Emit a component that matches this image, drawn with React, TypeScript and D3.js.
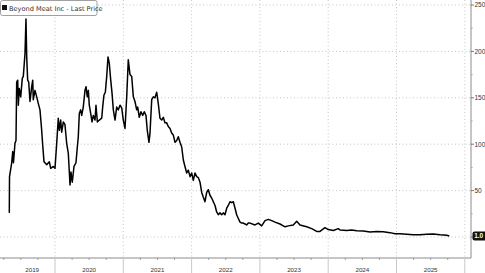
import React from "react";
import * as d3 from "d3";

// decimal-year time stamps
const times = [
  2019.331, 2019.334, 2019.366, 2019.381, 2019.392, 2019.414, 2019.429, 2019.439, 2019.454, 2019.463,
  2019.477, 2019.498, 2019.521, 2019.536, 2019.561, 2019.575, 2019.586, 2019.6, 2019.615, 2019.634,
  2019.659, 2019.674, 2019.682, 2019.707, 2019.732, 2019.755, 2019.78, 2019.805, 2019.82, 2019.839,
  2019.879, 2019.917, 2019.937, 2019.975, 2020.0, 2020.025, 2020.048, 2020.063, 2020.083, 2020.098,
  2020.122, 2020.146, 2020.171, 2020.195, 2020.22, 2020.234, 2020.253, 2020.278, 2020.307, 2020.327,
  2020.341, 2020.356, 2020.376, 2020.391, 2020.414, 2020.439, 2020.454, 2020.473, 2020.488, 2020.502,
  2020.523, 2020.542, 2020.561, 2020.586, 2020.6, 2020.62, 2020.649, 2020.684, 2020.698, 2020.717,
  2020.737, 2020.757, 2020.776, 2020.795, 2020.816, 2020.835, 2020.854, 2020.879, 2020.903, 2020.927,
  2020.952, 2020.977, 2021.0, 2021.025, 2021.05, 2021.073, 2021.098, 2021.123, 2021.147, 2021.171,
  2021.196, 2021.211, 2021.234, 2021.259, 2021.284, 2021.307, 2021.332, 2021.351, 2021.376, 2021.391,
  2021.416, 2021.439, 2021.464, 2021.489, 2021.512, 2021.537, 2021.562, 2021.586, 2021.61, 2021.635,
  2021.659, 2021.684, 2021.708, 2021.732, 2021.757, 2021.782, 2021.805, 2021.83, 2021.855, 2021.879,
  2021.903, 2021.928, 2021.952, 2021.977, 2022.001, 2022.025, 2022.05, 2022.075, 2022.098, 2022.123,
  2022.148, 2022.171, 2022.196, 2022.221, 2022.245, 2022.269, 2022.294, 2022.318, 2022.343, 2022.367,
  2022.391, 2022.416, 2022.441, 2022.464, 2022.489, 2022.514, 2022.537, 2022.562, 2022.587, 2022.611,
  2022.636, 2022.66, 2022.684, 2022.709, 2022.734, 2022.757, 2022.782, 2022.806, 2022.83, 2022.855,
  2022.928, 2022.977, 2023.026, 2023.075, 2023.123, 2023.173, 2023.221, 2023.294, 2023.368, 2023.416,
  2023.489, 2023.539, 2023.587, 2023.685, 2023.758, 2023.832, 2023.88, 2023.953, 2024.001, 2024.075,
  2024.148, 2024.173, 2024.271, 2024.344, 2024.417, 2024.514, 2024.612, 2024.71, 2024.807, 2024.905,
  2024.978, 2025.051, 2025.149, 2025.246, 2025.344, 2025.442, 2025.539, 2025.637, 2025.735, 2025.773,
];

const prices = [
  26, 65, 80, 92, 80, 101, 104, 167, 169, 142,
  160, 151, 171, 173, 198, 235, 193, 169, 167, 146,
  162, 169, 148, 158, 151, 144, 137, 115, 99, 81,
  78, 81, 74, 76, 74, 101, 128, 115, 126, 113,
  124, 121, 101, 90, 56, 70, 59, 76, 80, 97,
  108, 133, 137, 131, 140, 158, 162, 151, 158, 142,
  133, 124, 131, 126, 142, 124, 126, 128, 140, 153,
  156, 173, 194, 187, 169, 155, 137, 126, 140, 137,
  142, 139, 126, 117, 151, 191, 175, 173, 151, 146,
  137, 140, 129, 135, 131, 135, 131, 115, 102, 112,
  148, 151, 150, 156, 144, 128, 126, 129, 123, 123,
  119, 117, 112, 110, 102, 104, 108, 102, 97, 83,
  76, 69, 72, 65, 69, 61, 69, 65, 64, 59,
  48, 43, 38, 48, 51, 45, 42, 38, 34, 27,
  24, 26, 24, 26, 24, 31, 34, 38, 37, 38,
  31, 24, 20, 16, 15, 15, 14, 13, 15, 15,
  13, 15, 12, 17.6, 19, 17.6, 16, 14, 11, 12,
  13, 17, 13, 11, 9, 6, 6, 10, 8, 7,
  9, 7.5, 7, 7.5, 6.8, 6.4, 5.4, 6, 5.7, 4.7,
  3.6, 3.5, 3, 2.5, 2.3, 3, 3.3, 2.3, 1.8, 1.0,
];

const yTicks = [0, 50, 100, 150, 200, 250];
const yMinorTicks = [25, 75, 125, 175, 225];
const yearLabels = ["2019", "2020", "2021", "2022", "2023", "2024", "2025"];
const yearBounds = [2020, 2021, 2022, 2023, 2024, 2025, 2026];
const seriesName = "Beyond Meat Inc - Last Price";
const lastLabel = "1.0";

const W = 485;
const H = 273;
const FONT = "'Liberation Sans', Arial, sans-serif";
const LEGEND_FONT = "'DejaVu Sans', Verdana, sans-serif";

export default function App() {
  const plotRight = 471;
  const plotBottom = 258;
  const x = d3.scaleLinear().domain([2019, 2026]).range([-13.3, 464.8]);
  const y = d3.scaleLinear().domain([0, 250]).range([237, 5]);
  const data = times.map((t, i) => [t, prices[i]] as [number, number]);
  const line = d3
    .line<[number, number]>()
    .x((d) => x(d[0]))
    .y((d) => y(d[1]));

  const quarters: number[] = [];
  for (let yr = 2019; yr < 2026; yr++) {
    for (let q = 1; q < 4; q++) quarters.push(yr + q / 4);
  }
  const labelStarts = [times[0], ...yearBounds.slice(0, -1)];

  return (
    <svg
      width={W}
      height={H}
      style={{ position: "absolute", left: 0, top: 0, background: "#fff" }}
      fontFamily={FONT}
    >
      <rect x={0} y={0} width={W} height={H} fill="#fff" />
      {/* horizontal grid */}
      {yTicks.map((v) => (
        <line
          key={"hg" + v}
          x1={0}
          x2={plotRight}
          y1={y(v)}
          y2={y(v)}
          stroke="#b8b8b8"
          strokeWidth={0.8}
          strokeDasharray="1,2.5"
        />
      ))}
      {/* vertical grid */}
      {yearBounds.map((yr) => (
        <line
          key={"vg" + yr}
          x1={x(yr)}
          x2={x(yr)}
          y1={0}
          y2={plotBottom}
          stroke="#b8b8b8"
          strokeWidth={0.8}
          strokeDasharray="1,2.5"
        />
      ))}
      {/* frame */}
      <line x1={0} x2={plotRight} y1={plotBottom} y2={plotBottom} stroke="#8c8c8c" strokeWidth={1} />
      <line x1={plotRight} x2={plotRight} y1={0} y2={plotBottom} stroke="#8c8c8c" strokeWidth={1} />
      {/* quarter ticks */}
      {quarters.map((q) => (
        <line
          key={"qt" + q}
          x1={x(q)}
          x2={x(q)}
          y1={plotBottom}
          y2={plotBottom + 2}
          stroke="#8c8c8c"
          strokeWidth={0.8}
        />
      ))}
      {/* year separators */}
      {yearBounds.map((yr) => (
        <line
          key={"ys" + yr}
          x1={x(yr)}
          x2={x(yr)}
          y1={plotBottom}
          y2={H}
          stroke="#c8c8c8"
          strokeWidth={1}
        />
      ))}
      {yearLabels.map((lab, i) => (
        <text
          key={lab}
          x={(x(labelStarts[i]) + x(yearBounds[i])) / 2}
          y={271.5}
          textAnchor="middle"
          fontSize={6.2}
          fill="#333"
        >
          {lab}
        </text>
      ))}
      {/* right axis ticks */}
      {yTicks.map((v) => (
        <line key={"yt" + v} x1={plotRight} x2={plotRight + 3} y1={y(v)} y2={y(v)} stroke="#555" strokeWidth={0.8} />
      ))}
      {yMinorTicks.map((v) => (
        <line key={"ym" + v} x1={plotRight} x2={plotRight + 1.8} y1={y(v)} y2={y(v)} stroke="#999" strokeWidth={0.7} />
      ))}
      {yTicks
        .filter((v) => v > 0)
        .map((v) => (
          <text key={"yl" + v} x={474.5} y={y(v) + 2.3} fontSize={6.5} fill="#333">
            {v}
          </text>
        ))}
      {/* series */}
      <path d={line(data) || ""} fill="none" stroke="#000" strokeWidth={1.5} strokeLinejoin="round" />
      {/* last price badge */}
      <rect x={472.5} y={y(prices[prices.length - 1]) - 4.5} width={16} height={9} rx={2} fill="#111" />
      <text x={474.2} y={y(prices[prices.length - 1]) + 2.4} fontSize={6.5} fill="#fff" fontWeight="bold">
        {lastLabel}
      </text>
      {/* legend */}
      <rect x={0.5} y={0.5} width={96.5} height={15} rx={2} fill="#fff" stroke="#a0a0a0" strokeWidth={1} />
      <rect x={2} y={5} width={5} height={5} fill="#111" />
      <text x={9} y={10.8} fontSize={6.6} fill="#333" fontFamily={LEGEND_FONT}>
        {seriesName}
      </text>
    </svg>
  );
}
